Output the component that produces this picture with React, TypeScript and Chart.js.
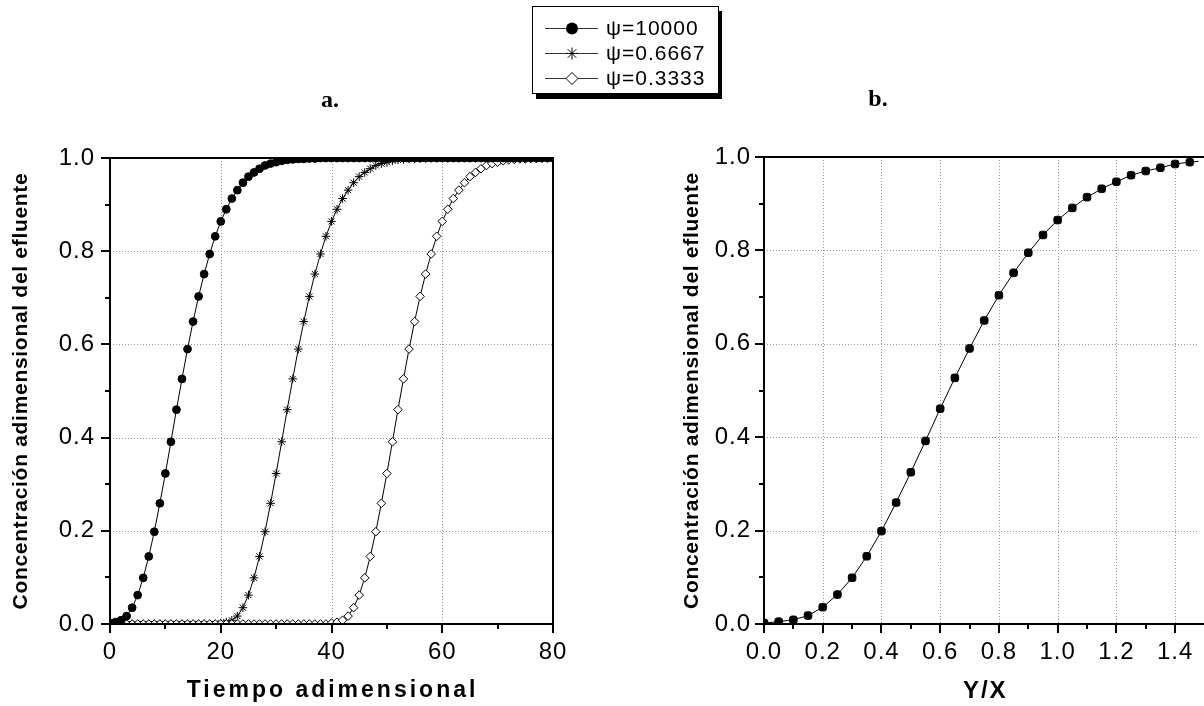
import React, { useEffect, useRef } from 'react';
import { Chart, registerables } from 'chart.js';

Chart.register(...registerables);

// ---------------- data ----------------
const timeA = [
  0, 1, 2, 3, 4, 5, 6, 7, 8, 9, 10, 11, 12, 13, 14, 15, 16, 17, 18, 19, 20,
  21, 22, 23, 24, 25, 26, 27, 28, 29, 30, 31, 32, 33, 34, 35, 36, 37, 38, 39, 40,
  41, 42, 43, 44, 45, 46, 47, 48, 49, 50, 51, 52, 53, 54, 55, 56, 57, 58, 59, 60,
  61, 62, 63, 64, 65, 66, 67, 68, 69, 70, 71, 72, 73, 74, 75, 76, 77, 78, 79, 80,
];

const psi10000 = [
  0.002, 0.004, 0.008, 0.017, 0.035, 0.062, 0.099, 0.145, 0.198, 0.259,
  0.323, 0.391, 0.460, 0.526, 0.590, 0.649, 0.703, 0.751, 0.794, 0.832,
  0.864, 0.890, 0.913, 0.931, 0.947, 0.960, 0.969, 0.977, 0.984, 0.988,
  0.991, 0.994, 0.996, 0.997, 0.998, 0.998, 0.999, 0.999, 1.0, 1.0,
  1.0, 1.0, 1.0, 1.0, 1.0, 1.0, 1.0, 1.0, 1.0, 1.0,
  1.0, 1.0, 1.0, 1.0, 1.0, 1.0, 1.0, 1.0, 1.0, 1.0,
  1.0, 1.0, 1.0, 1.0, 1.0, 1.0, 1.0, 1.0, 1.0, 1.0,
  1.0, 1.0, 1.0, 1.0, 1.0, 1.0, 1.0, 1.0, 1.0, 1.0,
  1.0,
];

const psi06667 = [
  0.0, 0.0, 0.0, 0.0, 0.0, 0.0, 0.0, 0.0, 0.0, 0.0,
  0.0, 0.0, 0.0, 0.0, 0.0, 0.0, 0.0, 0.0, 0.0, 0.0,
  0.002, 0.004, 0.008, 0.017, 0.035, 0.062, 0.099, 0.145, 0.198, 0.259,
  0.323, 0.391, 0.460, 0.526, 0.590, 0.649, 0.703, 0.751, 0.794, 0.832,
  0.864, 0.890, 0.913, 0.931, 0.947, 0.960, 0.969, 0.977, 0.984, 0.988,
  0.991, 0.994, 0.996, 0.997, 0.998, 0.998, 0.999, 0.999, 1.0, 1.0,
  1.0, 1.0, 1.0, 1.0, 1.0, 1.0, 1.0, 1.0, 1.0, 1.0,
  1.0, 1.0, 1.0, 1.0, 1.0, 1.0, 1.0, 1.0, 1.0, 1.0,
  1.0,
];

const psi03333 = [
  0.0, 0.0, 0.0, 0.0, 0.0, 0.0, 0.0, 0.0, 0.0, 0.0,
  0.0, 0.0, 0.0, 0.0, 0.0, 0.0, 0.0, 0.0, 0.0, 0.0,
  0.0, 0.0, 0.0, 0.0, 0.0, 0.0, 0.0, 0.0, 0.0, 0.0,
  0.0, 0.0, 0.0, 0.0, 0.0, 0.0, 0.0, 0.0, 0.0, 0.0,
  0.002, 0.004, 0.008, 0.017, 0.035, 0.062, 0.099, 0.145, 0.198, 0.259,
  0.323, 0.391, 0.460, 0.526, 0.590, 0.649, 0.703, 0.751, 0.794, 0.832,
  0.864, 0.890, 0.913, 0.931, 0.947, 0.960, 0.969, 0.977, 0.984, 0.988,
  0.991, 0.994, 0.996, 0.997, 0.998, 0.998, 0.999, 0.999, 1.0, 1.0,
  1.0,
];

const ratioB = [
  0.0, 0.05, 0.1, 0.15, 0.2, 0.25, 0.3, 0.35, 0.4, 0.45,
  0.5, 0.55, 0.6, 0.65, 0.7, 0.75, 0.8, 0.85, 0.9, 0.95,
  1.0, 1.05, 1.1, 1.15, 1.2, 1.25, 1.3, 1.35, 1.4, 1.45, 1.5,
];

const concB = [
  0.002, 0.005, 0.009, 0.018, 0.036, 0.063, 0.099, 0.145, 0.199, 0.260,
  0.325, 0.392, 0.461, 0.527, 0.590, 0.650, 0.704, 0.752, 0.795, 0.833,
  0.865, 0.891, 0.914, 0.932, 0.947, 0.961, 0.970, 0.977, 0.985, 0.989, 0.992,
];

const seriesLabels = ['ψ=10000', 'ψ=0.6667', 'ψ=0.3333'];
const yTickValues = [0, 0.1, 0.2, 0.3, 0.4, 0.5, 0.6, 0.7, 0.8, 0.9, 1.0];
const yTickLabels = ['0.0', '0.2', '0.4', '0.6', '0.8', '1.0'];
const xTickValuesA = [0, 10, 20, 30, 40, 50, 60, 70, 80];
const xTickLabelsA = ['0', '20', '40', '60', '80'];
const xTickValuesB = [0, 0.1, 0.2, 0.3, 0.4, 0.5, 0.6, 0.7, 0.8, 0.9, 1.0, 1.1, 1.2, 1.3, 1.4];
const xTickLabelsB = ['0.0', '0.2', '0.4', '0.6', '0.8', '1.0', '1.2', '1.4'];
const yTitle = 'Concentración adimensional del efluente';
const xTitleA = 'Tiempo adimensional';
const xTitleB = 'Y/X';
const panelA = 'a.';
const panelB = 'b.';

// ---------------- helpers ----------------
const SANS = '"Liberation Sans", Arial, Helvetica, sans-serif';
const SERIF = '"Liberation Serif", "Times New Roman", serif';

function isMult(v: number, step: number) {
  const r = v / step;
  return Math.abs(r - Math.round(r)) < 1e-6;
}

function drawMarker(ctx: CanvasRenderingContext2D, style: string, x: number, y: number, r: number) {
  ctx.save();
  ctx.lineWidth = 1;
  ctx.strokeStyle = '#000';
  ctx.setLineDash([]);
  if (style === 'circle') {
    ctx.fillStyle = '#000';
    ctx.beginPath();
    ctx.arc(x, y, r, 0, Math.PI * 2);
    ctx.fill();
  } else if (style === 'star') {
    ctx.beginPath();
    for (let i = 0; i < 4; i++) {
      const a = (i * Math.PI) / 4;
      ctx.moveTo(x - Math.cos(a) * r, y - Math.sin(a) * r);
      ctx.lineTo(x + Math.cos(a) * r, y + Math.sin(a) * r);
    }
    ctx.stroke();
  } else {
    ctx.fillStyle = '#fff';
    ctx.beginPath();
    ctx.moveTo(x, y - r);
    ctx.lineTo(x + r, y);
    ctx.lineTo(x, y + r);
    ctx.lineTo(x - r, y);
    ctx.closePath();
    ctx.fill();
    ctx.stroke();
  }
  ctx.restore();
}

type DecorOpts = {
  xMajor: number;
  xMinor: number;
  frameRight: boolean;
  yTitleX: number;
  xTitle: string;
  xTitleCenter: (chart: any) => number;
  xTitleY: number;
  xTitleFont: string;
  xTitleSpacing: string;
  panel: string;
  panelX: number;
  panelY: number;
  legend: boolean;
};

function makeDecor(o: DecorOpts) {
  return {
    id: 'decor',
    beforeDraw(chart: any) {
      chart.ctx.letterSpacing = '1px';
    },
    beforeDatasetsDraw(chart: any) {
      const { ctx, chartArea: a, scales } = chart;
      const x = scales.x;
      const y = scales.y;
      ctx.save();
      ctx.letterSpacing = '0px';
      ctx.strokeStyle = '#9a9a9a';
      ctx.lineWidth = 1;
      ctx.setLineDash([1, 2]);
      ctx.beginPath();
      x.ticks.forEach((t: any) => {
        if (isMult(t.value, o.xMajor) && t.value > x.min + 1e-9 && t.value < x.max - 1e-9) {
          const px = Math.round(x.getPixelForValue(t.value)) + 0.5;
          ctx.moveTo(px, a.top);
          ctx.lineTo(px, a.bottom);
        }
      });
      y.ticks.forEach((t: any) => {
        if (isMult(t.value, 0.2) && t.value > y.min + 1e-9 && t.value < y.max - 1e-9) {
          const py = Math.round(y.getPixelForValue(t.value)) + 0.5;
          ctx.moveTo(a.left, py);
          ctx.lineTo(a.right, py);
        }
      });
      ctx.stroke();
      ctx.restore();
    },
    afterDraw(chart: any) {
      const { ctx, chartArea: a, scales, width } = chart;
      const x = scales.x;
      const y = scales.y;
      ctx.save();
      ctx.letterSpacing = '0px';
      ctx.setLineDash([]);
      ctx.strokeStyle = '#000';
      ctx.lineWidth = 2;
      // frame
      ctx.beginPath();
      ctx.moveTo(a.left, a.top);
      ctx.lineTo(a.left, a.bottom);
      ctx.moveTo(a.left - 1, a.bottom);
      ctx.lineTo(o.frameRight ? a.right + 1 : width, a.bottom);
      ctx.moveTo(a.left - 1, a.top);
      ctx.lineTo(o.frameRight ? a.right + 1 : width, a.top);
      if (o.frameRight) {
        ctx.moveTo(a.right, a.top);
        ctx.lineTo(a.right, a.bottom);
      }
      ctx.stroke();
      // tick marks
      ctx.beginPath();
      x.ticks.forEach((t: any) => {
        if (!isMult(t.value, o.xMinor)) return;
        const len = isMult(t.value, o.xMajor) ? 9 : 5;
        const px = Math.round(x.getPixelForValue(t.value));
        ctx.moveTo(px, a.bottom);
        ctx.lineTo(px, a.bottom + len);
      });
      y.ticks.forEach((t: any) => {
        if (!isMult(t.value, 0.1)) return;
        const len = isMult(t.value, 0.2) ? 9 : 5;
        const py = Math.round(y.getPixelForValue(t.value));
        ctx.moveTo(a.left, py);
        ctx.lineTo(a.left - len, py);
      });
      ctx.stroke();

      // axis titles
      ctx.fillStyle = '#000';
      ctx.save();
      ctx.translate(o.yTitleX, (a.top + a.bottom) / 2);
      ctx.rotate(-Math.PI / 2);
      ctx.font = `bold 21px ${SANS}`;
      ctx.letterSpacing = '0.7px';
      ctx.textAlign = 'center';
      ctx.textBaseline = 'alphabetic';
      ctx.fillText(yTitle, 0, 0);
      ctx.restore();

      ctx.save();
      ctx.font = o.xTitleFont;
      ctx.letterSpacing = o.xTitleSpacing;
      ctx.textAlign = 'center';
      ctx.textBaseline = 'alphabetic';
      ctx.fillText(o.xTitle, o.xTitleCenter(chart) + 1, o.xTitleY);
      ctx.restore();

      // panel label
      ctx.save();
      ctx.font = `bold 24px ${SERIF}`;
      ctx.textAlign = 'center';
      ctx.textBaseline = 'middle';
      ctx.fillText(o.panel, o.panelX, o.panelY);
      ctx.restore();

      if (o.legend) {
        const bx = 532;
        const by = 6;
        const bw = 186;
        const bh = 87;
        ctx.fillStyle = '#000';
        ctx.fillRect(bx + 4, by + 5, bw, bh + 1);
        ctx.fillStyle = '#fff';
        ctx.fillRect(bx, by, bw, bh);
        ctx.lineWidth = 1;
        ctx.strokeStyle = '#000';
        ctx.strokeRect(bx + 0.5, by + 0.5, bw, bh);
        const rows = [28, 53, 78];
        const styles = ['circle', 'star', 'diamond'];
        const radii = [6, 6, 6];
        rows.forEach((ry, i) => {
          ctx.strokeStyle = '#333';
          ctx.lineWidth = 1;
          ctx.beginPath();
          ctx.moveTo(545, ry + 0.5);
          ctx.lineTo(598, ry + 0.5);
          ctx.stroke();
          drawMarker(ctx, styles[i], 572, ry + 0.5, radii[i]);
          ctx.fillStyle = '#000';
          ctx.font = `21px ${SANS}`;
          ctx.letterSpacing = '1px';
          ctx.textAlign = 'left';
          ctx.textBaseline = 'middle';
          ctx.fillText(seriesLabels[i], 606, ry + 1);
          ctx.letterSpacing = '0px';
        });
      }
      ctx.restore();
      ctx.letterSpacing = '0px';
    },
  };
}

function fitY(w: number) {
  return (s: any) => {
    s.width = w;
    s.paddingTop = 0;
    s.paddingBottom = 0;
    s.paddingLeft = 0;
    s.paddingRight = 0;
  };
}
function fitX(h: number) {
  return (s: any) => {
    s.height = h;
    s.paddingTop = 0;
    s.paddingBottom = 0;
    s.paddingLeft = 0;
    s.paddingRight = 0;
  };
}
function setTicks(values: number[]) {
  return (s: any) => {
    s.ticks = values.map((v) => ({ value: v }));
  };
}

const tickFont = { family: SANS, size: 24 };

function yScale(padding: number, width: number) {
  return {
    type: 'linear',
    min: 0,
    max: 1,
    afterBuildTicks: setTicks(yTickValues),
    afterFit: fitY(width),
    ticks: {
      autoSkip: false,
      color: '#000',
      font: tickFont,
      padding,
      callback: (v: any) => {
        const s = Number(v).toFixed(1);
        return yTickLabels.includes(s) && isMult(Number(v), 0.2) ? s : '';
      },
    },
    grid: { display: false, drawTicks: false },
    border: { display: false },
  };
}

export default function App() {
  const refA = useRef<HTMLCanvasElement>(null);
  const refB = useRef<HTMLCanvasElement>(null);

  useEffect(() => {
    const lineBase = { borderColor: '#000', borderWidth: 1, tension: 0, fill: false, pointBorderColor: '#000', pointBorderWidth: 1 };
    const chartA = new Chart(refA.current as HTMLCanvasElement, {
      type: 'line',
      data: {
        datasets: [
          {
            ...lineBase,
            label: seriesLabels[0],
            data: timeA.map((t, i) => ({ x: t, y: psi10000[i] })),
            pointStyle: 'circle',
            pointRadius: 3.9,
            pointBackgroundColor: '#000',
            order: 0,
          },
          {
            ...lineBase,
            label: seriesLabels[1],
            data: timeA.map((t, i) => ({ x: t, y: psi06667[i] })),
            pointStyle: 'star',
            pointRadius: 4.3,
            pointBackgroundColor: '#000',
            order: 2,
          },
          {
            ...lineBase,
            label: seriesLabels[2],
            data: timeA.map((t, i) => ({ x: t, y: psi03333[i] })),
            pointStyle: 'rectRot',
            pointRadius: 4.3,
            pointBackgroundColor: '#fff',
            order: 1,
          },
        ],
      } as any,
      options: {
        responsive: false,
        animation: false,
        events: [],
        layout: { padding: { top: 158, right: 177, bottom: 0, left: 0 } },
        plugins: {
          legend: { display: false },
          tooltip: { enabled: false },
        },
        scales: {
          x: {
            type: 'linear',
            min: 0,
            max: 80,
            afterBuildTicks: setTicks(xTickValuesA),
            afterFit: fitX(82),
            ticks: {
              autoSkip: false,
              maxRotation: 0,
              minRotation: 0,
              color: '#000',
              font: tickFont,
              padding: 14,
              callback: (v: any) => {
                const s = String(v);
                return xTickLabelsA.includes(s) ? s : '';
              },
            },
            grid: { display: false, drawTicks: false },
            border: { display: false },
          },
          y: yScale(15, 110),
        } as any,
      },
      plugins: [
        makeDecor({
          xMajor: 20,
          xMinor: 10,
          frameRight: true,
          yTitleX: 27,
          xTitle: xTitleA,
          xTitleCenter: (c: any) => (c.chartArea.left + c.chartArea.right) / 2,
          xTitleY: 697,
          xTitleFont: `bold 23px ${SANS}`,
          xTitleSpacing: '3px',
          panel: panelA,
          panelX: 330,
          panelY: 101,
          legend: true,
        }),
      ],
    } as any);

    const chartB = new Chart(refB.current as HTMLCanvasElement, {
      type: 'line',
      data: {
        datasets: [
          {
            ...lineBase,
            label: 'Y/X',
            data: ratioB.map((r, i) => ({ x: r, y: concB[i] })),
            pointStyle: 'rectRounded',
            pointRadius: 4.4,
            pointBackgroundColor: '#000',
          },
        ],
      } as any,
      options: {
        responsive: false,
        animation: false,
        events: [],
        layout: { padding: { top: 157, right: 0, bottom: 0, left: 0 } },
        plugins: {
          legend: { display: false },
          tooltip: { enabled: false },
        },
        scales: {
          x: {
            type: 'linear',
            min: 0,
            max: 1.48,
            afterBuildTicks: setTicks(xTickValuesB),
            afterFit: fitX(82),
            ticks: {
              autoSkip: false,
              maxRotation: 0,
              minRotation: 0,
              color: '#000',
              font: tickFont,
              padding: 14,
              callback: (v: any) => {
                const s = Number(v).toFixed(1);
                return xTickLabelsB.includes(s) ? s : '';
              },
            },
            grid: { display: false, drawTicks: false },
            border: { display: false },
          },
          y: yScale(13, 164),
        } as any,
      },
      plugins: [
        makeDecor({
          xMajor: 0.2,
          xMinor: 0.1,
          frameRight: false,
          yTitleX: 98,
          xTitle: xTitleB,
          xTitleCenter: (c: any) => c.scales.x.getPixelForValue(0.75),
          xTitleY: 698,
          xTitleFont: `bold 24px ${SANS}`,
          xTitleSpacing: '2px',
          panel: panelB,
          panelX: 278,
          panelY: 100,
          legend: false,
        }),
      ],
    } as any);

    return () => {
      chartA.destroy();
      chartB.destroy();
    };
  }, []);

  return (
    <div style={{ position: 'fixed', left: 0, top: 0, width: 1204, height: 706, background: '#fff', overflow: 'hidden' }}>
      <canvas ref={refA} width={730} height={706} style={{ position: 'absolute', left: 0, top: 0 }} />
      <canvas ref={refB} width={604} height={706} style={{ position: 'absolute', left: 600, top: 0 }} />
    </div>
  );
}
